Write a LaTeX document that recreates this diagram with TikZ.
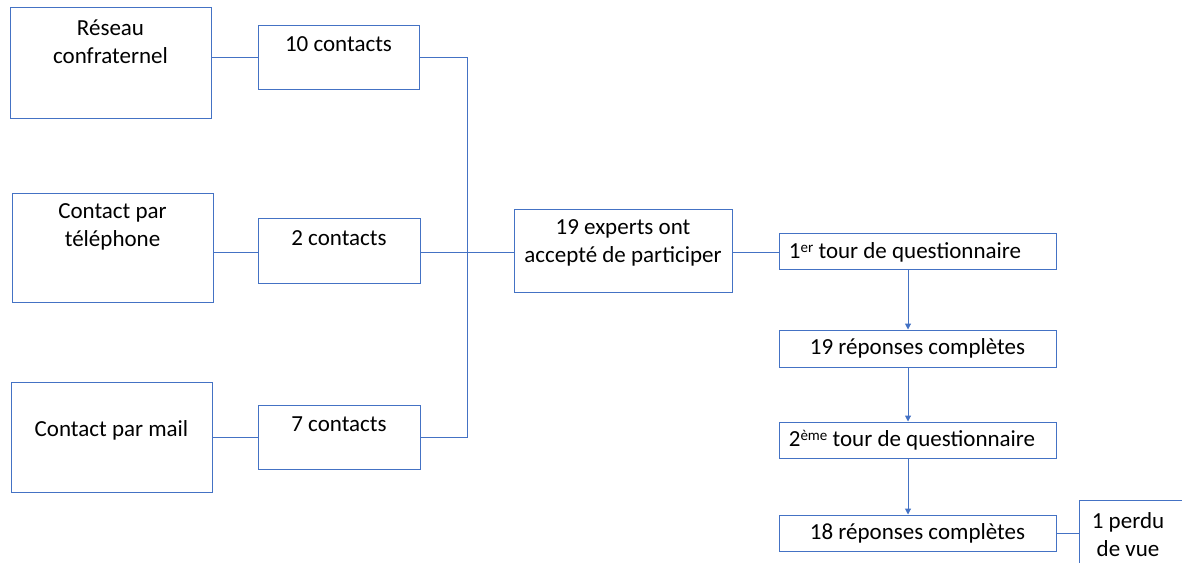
\documentclass[tikz,border=0pt]{standalone}
\usepackage{fontspec}
\setmainfont{Carlito}
\usetikzlibrary{arrows.meta}
\definecolor{lineblue}{HTML}{4472C4}
\newcommand{\mysup}[1]{\raisebox{0.55ex}{\fontsize{15}{15}\selectfont #1}}
\tikzset{
  box/.style={draw=lineblue, line width=1pt, rectangle, inner sep=0pt},
  lbl/.style={align=center, inner sep=0pt, font=\fontsize{23}{28}\selectfont},
  conn/.style={draw=lineblue, line width=1pt},
  arr/.style={conn, -{Triangle[length=6pt,width=6pt]}}
}
\begin{document}
\begin{tikzpicture}[x=1pt,y=-1pt]
\useasboundingbox (0,0) rectangle (1182,563);
% left column
\node[box, minimum width=201pt, minimum height=111pt] (r1) at (110.5,62.5) {};
\node[lbl] (r1t) at (110.5,41.5) {Réseau\\confraternel};
\node[box, minimum width=201pt, minimum height=109pt] (r2) at (112.5,247.5) {};
\node[lbl] (r2t) at (112.5,227) {Contact par\\téléphone};
\node[box, minimum width=201pt, minimum height=110pt] (r3) at (111.5,437) {};
\node[lbl] (r3t) at (111.5,430) {Contact par mail};
% contacts
\node[box, minimum width=161pt, minimum height=64pt] (c10) at (338.5,57) {};
\node[lbl] (c10t) at (338.5,44) {10 contacts};
\node[box, minimum width=162pt, minimum height=65pt] (c2) at (339,250.5) {};
\node[lbl] (c2t) at (339,238) {2 contacts};
\node[box, minimum width=162pt, minimum height=64pt] (c7) at (339,437) {};
\node[lbl] (c7t) at (339,424) {7 contacts};
% experts
\node[box, minimum width=218pt, minimum height=83pt] (exp) at (623,250.5) {};
\node[lbl] (expt) at (623,242.5) {19 experts ont\\accepté de participer};
% right column
\node[box, minimum width=277pt, minimum height=36pt] (t1) at (917.5,251) {};
\node[lbl] (t1t) at (905,252) {1\mysup{er} tour de questionnaire};
\node[box, minimum width=277pt, minimum height=37pt] (q19) at (917.5,348.5) {};
\node[lbl] (q19t) at (917.5,348) {19 réponses complètes};
\node[box, minimum width=277pt, minimum height=36pt] (t2) at (917.5,440) {};
\node[lbl] (t2t) at (912,440) {2\mysup{ème} tour de questionnaire};
\node[box, minimum width=277pt, minimum height=36pt] (q18) at (917.5,533) {};
\node[lbl] (q18t) at (917.5,533) {18 réponses complètes};
% lost to follow-up (cut off box)
\coordinate (pw) at (1079,533);
\draw[conn] (1182,500) -- (1079,500) -- (1079,563);
\node[lbl] (pt) at (1128,534.5) {1 perdu\\de vue};
% connectors
\coordinate (j) at (467,252);
\draw[conn] (r1.east |- c10.west) -- (c10.west);
\draw[conn] (r2.east |- 0,252) -- (c2.west |- 0,252);
\draw[conn] (r3.east |- c7.west) -- (c7.west);
\draw[conn] (c10.east) -| (j);
\draw[conn] (c7.east) -| (j);
\draw[conn] (c2.east |- 0,252) -- (exp.west |- 0,252);
\draw[conn] (exp.east |- 0,252) -- (t1.west |- 0,252);
\draw[arr] ([xshift=-9.5pt]t1.south) -- ([xshift=-9.5pt]q19.north);
\draw[arr] ([xshift=-9.5pt]q19.south) -- ([xshift=-9.5pt]t2.north);
\draw[arr] ([xshift=-9.5pt]t2.south) -- ([xshift=-9.5pt]q18.north);
\draw[conn] (q18.east) -- (pw);
\end{tikzpicture}
\end{document}
